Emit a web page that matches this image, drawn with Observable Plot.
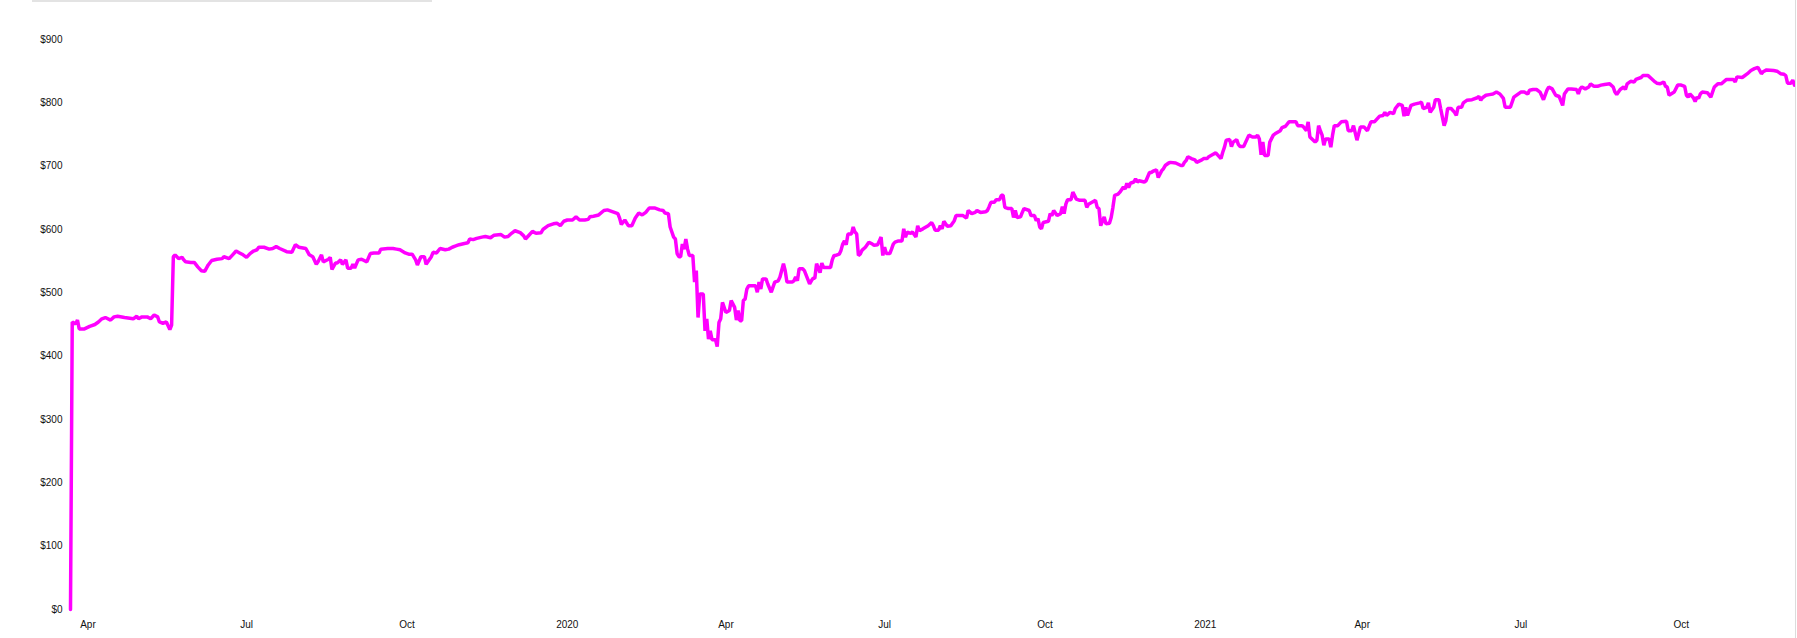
<!DOCTYPE html>
<html><head><meta charset="utf-8">
<script src="https://cdn.jsdelivr.net/npm/d3@7"></script>
<script src="https://cdn.jsdelivr.net/npm/@observablehq/plot@0.6"></script>
<style>
html,body{margin:0;padding:0;background:#fff;}
body{width:1797px;height:638px;position:relative;overflow:hidden;font-family:"Liberation Sans",Arial,Helvetica,sans-serif;}
#chart{position:absolute;left:0;top:0;}
#bar{position:absolute;left:32px;top:0;width:400px;height:2px;background:#e3e3e3;}
#edge{position:absolute;left:1795px;top:0;width:1px;height:638px;background:#dcdcdc;}
</style></head><body>
<div id="chart"></div><div id="bar"></div><div id="edge"></div>
<script>
const days2019 = [
 "03-22","03-23","03-25","03-26","03-27","03-30",
 "04-02","04-05","04-07","04-09","04-11","04-14","04-16","04-18","04-22","04-27","04-29","04-30",
 "05-02","05-05","05-07","05-09","05-11","05-12","05-14","05-16","05-18","05-19","05-20","05-21","05-23","05-25","05-26","05-27","05-30",
 "06-01","06-03","06-05","06-07","06-09","06-11","06-14","06-17","06-18","06-21","06-23","06-25","06-27","06-29",
 "07-01","07-03","07-05","07-07","07-08","07-11","07-14","07-16","07-18","07-20","07-24","07-27","07-29","07-31",
 "08-04","08-06","08-08","08-10","08-11","08-13","08-14","08-17","08-18","08-19","08-21","08-22","08-24","08-25","08-27","08-28","08-30","08-31",
 "09-01","09-03","09-05","09-08","09-10","09-12","09-15","09-16","09-20","09-23","09-25","09-27","09-30",
 "10-02","10-04","10-06","10-07","10-09","10-11","10-12","10-15","10-16","10-18","10-20","10-23","10-25","10-27","10-29","10-31",
 "11-03","11-05","11-06","11-08","11-10","11-13","11-15","11-18","11-20","11-24","11-26","11-28","11-30",
 "12-02","12-05","12-07","12-08","12-10","12-12","12-14","12-17","12-18","12-21","12-24","12-26","12-28","12-30"
];
const values2019 = [
 0,454,451,457,443,443,
 447,450,454,459,461,457,462,463,461,459,463,459,
 462,462,459,465,462,454,452,454,442,449,557,560,554,556,552,549,548,
 548,541,535,534,544,551,553,554,557,554,560,566,563,560,
 556,562,566,568,572,572,569,570,573,570,565,564,576,572,
 570,560,557,545,549,560,549,553,556,537,547,547,552,545,552,539,539,545,
 539,552,553,549,562,563,563,569,570,570,569,568,563,
 561,561,552,544,557,557,545,557,564,563,570,568,569,572,574,576,
 578,579,585,584,586,588,589,587,591,592,588,589,594,
 598,595,590,585,591,597,594,595,600,606,609,610,606,613
];
const days2020 = [
 "01-01","01-04","01-06","01-08","01-11","01-13","01-14","01-16","01-19","01-22","01-24","01-26","01-30","01-31",
 "02-01","02-03","02-05","02-07","02-09","02-11","02-13","02-15","02-17","02-20","02-23","02-25","02-26","02-28","02-29",
 "03-02","03-03","03-04","03-05","03-06","03-07","03-08","03-09","03-10","03-11","03-13","03-14","03-15","03-16","03-17","03-19","03-20","03-21","03-22","03-23","03-24","03-26","03-27","03-28","03-29","03-30",
 "04-01","04-03","04-04","04-06","04-07","04-08","04-09","04-10","04-11","04-12","04-13","04-14","04-18","04-19","04-20","04-21","04-22","04-24","04-25","04-27","04-28","04-29",
 "05-01","05-02","05-04","05-05","05-06","05-09","05-10","05-11","05-12","05-13","05-15","05-16","05-19","05-20","05-21","05-22","05-23","05-25","05-26","05-27","05-31",
 "06-01","06-02","06-03","06-05","06-06","06-07","06-08","06-09","06-10","06-12","06-13","06-14","06-15","06-16","06-17","06-18","06-20","06-22","06-24","06-25","06-27","06-28","06-29","06-30",
 "07-01","07-02","07-04","07-05","07-06","07-07","07-09","07-11","07-12","07-13","07-14","07-16","07-17","07-19","07-20","07-21","07-23","07-26","07-28","07-29","07-30",
 "08-01","08-02","08-03","08-04","08-06","08-08","08-10","08-11","08-13","08-15","08-17","08-18","08-20","08-22","08-23","08-25","08-28","08-29","08-30","08-31",
 "09-02","09-03","09-05","09-06","09-07","09-08","09-10","09-12","09-13","09-14","09-15","09-17","09-18","09-19","09-22","09-23","09-25","09-26","09-27","09-28","09-29","09-30",
 "10-03","10-04","10-05","10-06","10-08","10-10","10-11","10-12","10-13","10-14","10-16","10-17","10-19","10-21","10-24","10-25","10-26","10-28","10-30","10-31",
 "11-01","11-02","11-04","11-05","11-07","11-08","11-09","11-10","11-12","11-13","11-15","11-16","11-17","11-18","11-19","11-21","11-22","11-23","11-24","11-27","11-28","11-30",
 "12-01","12-02","12-04","12-05","12-07","12-08","12-09","12-11","12-12","12-15","12-18","12-19","12-20","12-21","12-22","12-24","12-26","12-27","12-30","12-31"
];
const values2020 = [
 615,615,620,615,615,616,620,621,623,630,631,629,625,618,
 608,615,606,606,618,626,623,627,634,634,631,630,626,625,604,
 588,585,562,557,557,577,569,585,569,559,559,517,535,461,498,498,440,459,427,440,426,426,415,453,459,485,
 469,472,488,477,457,472,456,456,488,490,506,511,511,501,517,506,522,522,514,501,509,517,
 519,525,546,535,517,517,519,525,519,538,538,535,514,519,523,523,546,532,547,540,540,
 552,559,559,561,567,577,582,576,593,593,604,596,593,559,561,567,572,580,577,575,576,582,588,559,
 572,562,562,569,577,580,582,582,601,588,596,594,596,588,606,598,601,606,611,606,599,
 599,606,601,613,605,606,614,622,622,622,618,630,625,627,630,627,628,630,636,643,
 643,647,647,654,654,635,633,633,619,630,619,620,627,633,630,622,622,614,617,604,601,611,
 613,625,622,630,622,625,636,625,640,647,647,659,648,646,646,635,640,643,646,635,
 633,606,620,609,610,619,635,654,656,659,667,664,673,666,673,675,680,675,677,675,677,690,
 690,692,694,682,693,696,701,705,706,705,701,701,706,709,715,712,710,706,710,712
];
const days2021 = [
 "01-02","01-03","01-05","01-07","01-10","01-11","01-12","01-13","01-15","01-16","01-17","01-19","01-20","01-21","01-23","01-26","01-28","01-30","01-31",
 "02-01","02-02","02-03","02-04","02-06","02-07","02-09","02-10","02-13","02-14","02-16","02-18","02-20","02-22","02-23","02-25","02-26","02-28",
 "03-01","03-02","03-05","03-06","03-07","03-08","03-09","03-10","03-11","03-13","03-14","03-15","03-16","03-18","03-20","03-23","03-24","03-26","03-27","03-29","03-31",
 "04-02","04-04","04-06","04-08","04-11","04-13","04-14","04-15","04-17","04-19","04-20","04-22","04-24","04-25","04-26","04-27","04-29",
 "05-01","05-04","05-05","05-06","05-08","05-09","05-10","05-12","05-13","05-15","05-16","05-18","05-19","05-20","05-22","05-24","05-25","05-26","05-28","05-29","05-31",
 "06-03","06-06","06-07","06-08","06-09","06-11","06-13","06-15","06-17","06-19","06-21","06-22","06-25","06-27","06-29",
 "07-01","07-03","07-05","07-06","07-08","07-10","07-12","07-14","07-16","07-17","07-19","07-20","07-21","07-23","07-25","07-26","07-28","07-30",
 "08-02","08-03","08-04","08-05","08-07","08-09","08-10","08-12","08-14","08-16","08-18","08-21","08-23","08-24","08-25","08-27","08-29","08-30","08-31",
 "09-02","09-04","09-05","09-08","09-09","09-12","09-14","09-16","09-17","09-19","09-21","09-22","09-23","09-24","09-27","09-29",
 "10-01","10-03","10-04","10-05","10-06","10-08","10-09","10-10","10-11","10-12","10-13","10-16","10-18","10-20","10-22","10-24","10-27","10-29","10-31",
 "11-01","11-02","11-05","11-06","11-08","11-10","11-12","11-14","11-16","11-17","11-19","11-23","11-25","11-27","11-29","11-30",
 "12-01","12-03","12-04","12-05"
];
const values2021 = [
 712,715,718,721,712,722,730,741,742,731,738,742,734,731,731,749,746,746,749,
 743,718,738,717,717,738,749,751,756,761,763,770,770,770,764,764,763,756,
 770,746,738,741,764,756,749,733,743,743,730,749,764,764,770,771,756,756,764,741,762,
 762,756,770,770,779,780,785,780,785,783,791,798,796,779,793,780,796,
 798,800,801,791,793,800,785,793,805,805,791,764,772,791,791,785,780,793,793,800,804,
 805,808,810,804,808,812,813,814,817,814,807,793,793,809,813,
 817,817,814,820,821,821,817,805,820,825,822,817,812,810,796,814,822,822,
 821,814,822,825,822,825,830,826,826,828,829,830,825,817,813,821,825,821,830,
 834,833,837,840,843,843,838,833,831,830,833,826,825,812,817,828,
 828,826,812,809,814,808,802,809,807,814,817,816,809,825,830,830,837,837,837,
 833,841,840,842,846,851,854,856,846,849,852,851,850,846,845,843,
 831,831,836,828
];
const yTicks = [0, 100, 200, 300, 400, 500, 600, 700, 800, 900];
const xTicks = ["2019-04-01","2019-07-01","2019-10-01","2020-01-01","2020-04-01","2020-07-01","2020-10-01","2021-01-01","2021-04-01","2021-07-01","2021-10-01"];
const xTickLabels = ["Apr","Jul","Oct","2020","Apr","Jul","Oct","2021","Apr","Jul","Oct"];

const years = [["2019", days2019, values2019], ["2020", days2020, values2020], ["2021", days2021, values2021]];
const data = [];
for (const [yr, days, vals] of years) {
  days.forEach((d, i) => data.push({date: new Date(yr + "-" + d), value: vals[i]}));
}
const tickDates = xTicks.map(d => new Date(d));
const labelByTime = new Map(tickDates.map((d, i) => [+d, xTickLabels[i]]));

const chart = Plot.plot({
  width: 1795,
  height: 638,
  marginTop: 39,
  marginBottom: 29,
  marginLeft: 70,
  marginRight: 1,
  style: {fontFamily: '"Liberation Sans", Arial, Helvetica, sans-serif', fontSize: "10px", color: "#111", background: "transparent"},
  x: {type: "utc", ticks: tickDates, tickFormat: d => labelByTime.get(+d), tickSize: 0, tickPadding: 11, label: null},
  y: {domain: [0, 900], ticks: yTicks, tickFormat: d => "$" + d, tickSize: 0, tickPadding: 8, label: null},
  marks: [
    Plot.lineY(data, {x: "date", y: "value", stroke: "#ff00ff", strokeWidth: 3.5, strokeLinejoin: "miter"})
  ]
});
document.getElementById("chart").appendChild(chart);
</script>
</body></html>
